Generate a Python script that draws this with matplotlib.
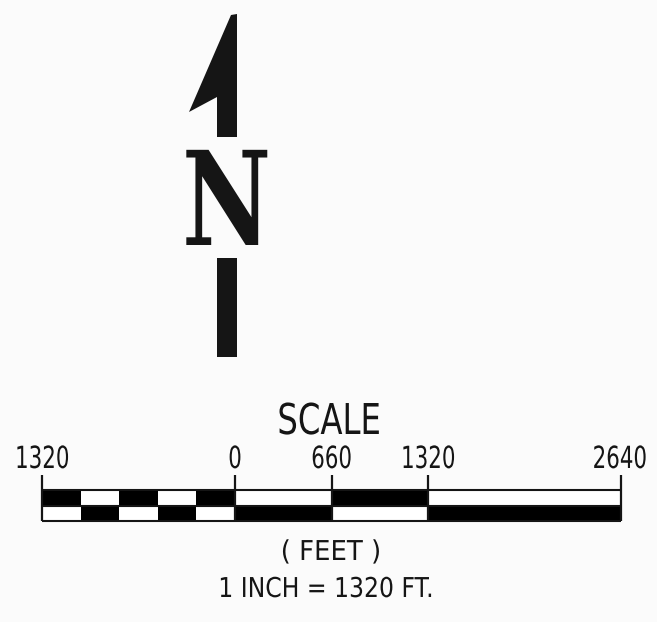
import matplotlib
matplotlib.use("Agg")
import matplotlib.pyplot as plt
from matplotlib.patches import Polygon, Rectangle
from matplotlib.patheffects import AbstractPathEffect
from matplotlib.transforms import Affine2D

# scale bar data (feet)
left_edges = [-1320, -1056, -792, -528, -264]
left_width = 264
left_top = ['k', 'w', 'k', 'w', 'k']
left_bottom = ['w', 'k', 'w', 'k', 'w']
right_edges = [0, 660, 1320]
right_widths = [660, 660, 1320]
right_top = ['w', 'k', 'w']
right_bottom = ['k', 'w', 'k']
tick_pos = [-1320, 0, 660, 1320, 2640]
tick_labels = ['1320', '0', '660', '1320', '2640']


class Squeeze(AbstractPathEffect):
    """Narrow the glyphs horizontally (CAD-like lettering)."""
    def __init__(self, sx, anchor='center'):
        super().__init__()
        self.sx = sx
        self.anchor = anchor

    def draw_path(self, renderer, gc, tpath, affine, rgbFace=None):
        ext = tpath.get_extents()
        cx = ext.x1 if self.anchor == 'right' else (ext.x0 + ext.x1) / 2
        t = Affine2D().translate(-cx, 0).scale(self.sx, 1).translate(cx, 0)
        renderer.draw_path(gc, tpath, t + affine, rgbFace)


W, H = 657, 622
bg = '#fbfbfb'
ink = '#151515'
fig = plt.figure(figsize=(W / 100, H / 100), dpi=100, facecolor=bg)

# main canvas in pixel units
ax = fig.add_axes([0, 0, 1, 1])
ax.set_xlim(0, W)
ax.set_ylim(H, 0)
ax.axis('off')

# north arrow
arrow = [(237, 14), (237, 137), (217, 137), (217, 97), (189, 112), (231, 15)]
ax.add_patch(Polygon(arrow, closed=True, color=ink, lw=0))
ax.text(226.5, 245, 'N', family='DejaVu Serif', fontstretch='condensed',
        weight='bold', fontsize=94, ha='center', va='baseline', color=ink,
        path_effects=[Squeeze(0.83)])
ax.add_patch(Rectangle((217, 258), 20, 99, color=ink, lw=0))

ax.text(329, 434, 'SCALE', fontsize=30.6, ha='center', va='baseline', color=ink,
        path_effects=[Squeeze(0.76)])
ax.text(331, 560, '( FEET )', fontsize=19.7, ha='center', va='baseline', color=ink,
        path_effects=[Squeeze(0.95)])
ax.text(326, 597, '1 INCH = 1320 FT.', fontsize=19.7, ha='center', va='baseline', color=ink,
        path_effects=[Squeeze(0.86)])

# scale bar axes, x in feet, y in pixels
x0, x1 = 42, 621
yt, ym, yb, ytick = 490, 505.5, 521, 475
axb = fig.add_axes([x0 / W, 1 - yb / H, (x1 - x0) / W, (yb - ytick) / H])
axb.set_xlim(-1320, 2640)
axb.set_ylim(yb, ytick)
axb.axis('off')

axb.bar(left_edges, ym - yt, width=left_width, bottom=yt, align='edge', color=left_top, lw=0)
axb.bar(left_edges, yb - ym, width=left_width, bottom=ym, align='edge', color=left_bottom, lw=0)
axb.bar(right_edges, ym - yt, width=right_widths, bottom=yt, align='edge', color=right_top, lw=0)
axb.bar(right_edges, yb - ym, width=right_widths, bottom=ym, align='edge', color=right_bottom, lw=0)

for y in (yt, ym, yb):
    axb.hlines(y, -1320, 2640, color=ink, lw=1.5, clip_on=False)
axb.vlines(tick_pos, ytick, yb, color=ink, lw=1.6, clip_on=False)

for i, (p, lab) in enumerate(zip(tick_pos, tick_labels)):
    if i == len(tick_pos) - 1:
        # last label: anchor on its right edge so it stays inside the figure
        axb.annotate(lab, (p, 468), xytext=(19, 0), textcoords='offset points',
                     fontsize=22, ha='right', va='baseline', color=ink,
                     annotation_clip=False, path_effects=[Squeeze(0.70, 'right')])
    else:
        axb.annotate(lab, (p, 468), fontsize=22, ha='center', va='baseline', color=ink,
                     annotation_clip=False, path_effects=[Squeeze(0.70)])

fig.savefig('out.png', dpi=100, facecolor=bg)
